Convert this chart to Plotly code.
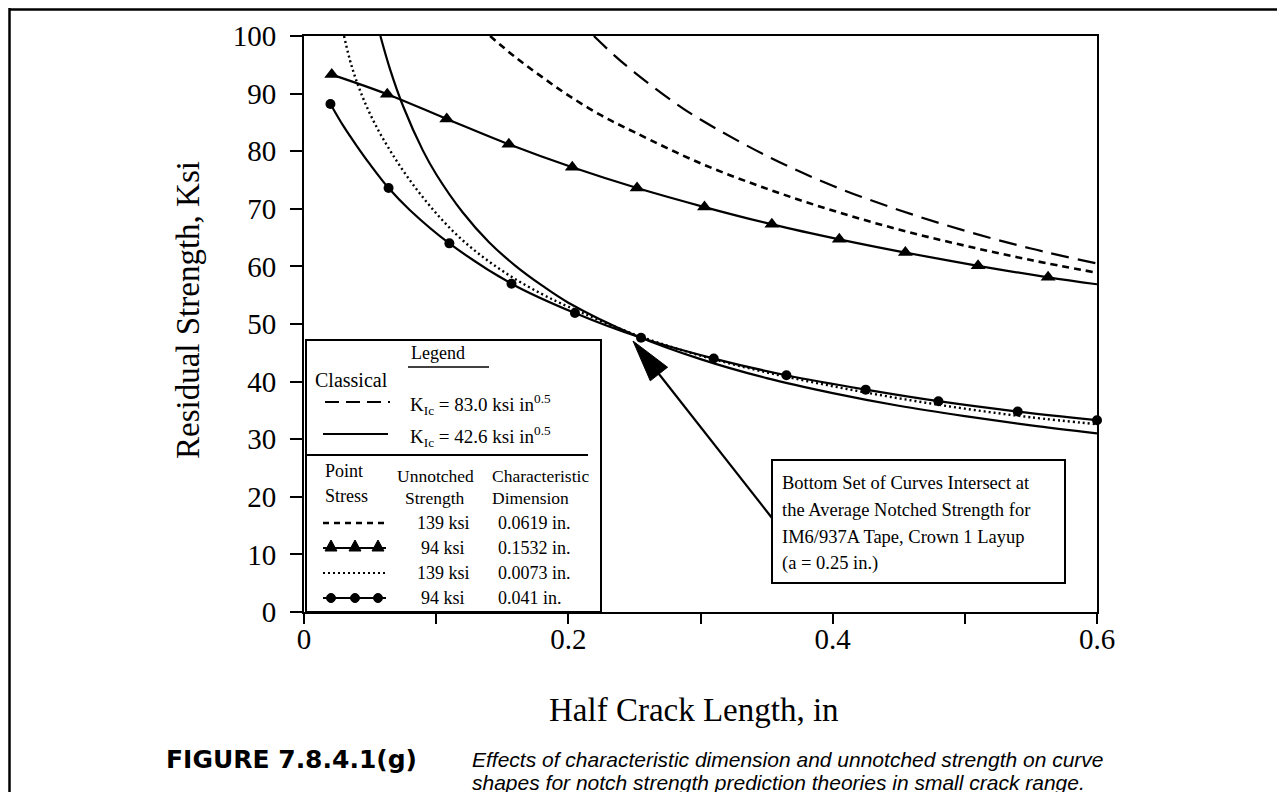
import numpy as np
import plotly.graph_objects as go

# ---------------- data ----------------
# Classical, K_Ic = 83.0 ksi in^0.5 (long dashes)
k83_x = [0.2193, 0.235, 0.25, 0.28, 0.30, 0.35, 0.40, 0.45, 0.50, 0.55, 0.60]
k83_y = [100.0, 96.6, 93.7, 88.5, 85.5, 79.2, 74.0, 69.8, 66.2, 63.1, 60.5]

# Classical, K_Ic = 42.6 ksi in^0.5 (solid)
k426_x = [0.0578, 0.065, 0.075, 0.09, 0.10, 0.12, 0.14, 0.16, 0.18, 0.20,
          0.25, 0.30, 0.35, 0.40, 0.45, 0.50, 0.55, 0.60]
k426_y = [100.0, 94.3, 87.8, 80.1, 76.0, 69.4, 64.2, 60.1, 56.7, 53.7,
          48.1, 43.9, 40.6, 38.0, 35.8, 34.0, 32.4, 31.0]

# Point stress, 139 ksi, 0.0619 in. (short dashes)
ps1_x = [0.1408, 0.16, 0.18, 0.20, 0.225, 0.25, 0.30, 0.35, 0.40, 0.45, 0.50, 0.55, 0.60]
ps1_y = [100.0, 96.3, 92.9, 89.7, 86.2, 83.3, 77.9, 73.5, 69.7, 66.4, 63.6, 61.1, 58.9]

# Point stress, 94 ksi, 0.1532 in. (solid with triangles)
ps2_x = [0.021, 0.063, 0.108, 0.155, 0.203, 0.252, 0.303, 0.354, 0.405, 0.455, 0.510, 0.563, 0.600]
ps2_y = [93.3, 89.9, 85.6, 81.2, 77.2, 73.6, 70.3, 67.3, 64.7, 62.4, 60.1, 58.1, 56.9]
ps2_mx = [0.021, 0.063, 0.108, 0.155, 0.203, 0.252, 0.303, 0.354, 0.405, 0.455, 0.510, 0.563]
ps2_my = [93.3, 89.9, 85.6, 81.2, 77.2, 73.6, 70.3, 67.3, 64.7, 62.4, 60.1, 58.1]

# Point stress, 139 ksi, 0.0073 in. (dotted)
ps3_x = [0.0303, 0.036, 0.044, 0.054, 0.066, 0.080, 0.096, 0.115, 0.135, 0.157,
         0.18, 0.20, 0.25, 0.30, 0.35, 0.40, 0.45, 0.50, 0.55, 0.60]
ps3_y = [100.0, 94.8, 89.6, 84.6, 79.8, 75.0, 70.3, 65.6, 61.7, 58.2,
         55.2, 53.0, 48.2, 44.5, 41.6, 39.2, 37.1, 35.3, 33.8, 32.6]

# Point stress, 94 ksi, 0.041 in. (solid with circles)
ps4_x = [0.020, 0.030, 0.040, 0.050, 0.064, 0.080, 0.110, 0.157, 0.205, 0.255,
         0.310, 0.365, 0.425, 0.480, 0.540, 0.600]
ps4_y = [88.2, 84.3, 80.9, 77.7, 73.6, 69.8, 64.0, 57.0, 51.9, 47.6,
         44.0, 41.1, 38.6, 36.6, 34.8, 33.3]
ps4_mx = [0.020, 0.064, 0.110, 0.157, 0.205, 0.255, 0.310, 0.365, 0.425, 0.480, 0.540, 0.600]
ps4_my = [88.2, 73.6, 64.0, 57.0, 51.9, 47.6, 44.0, 41.1, 38.6, 36.6, 34.8, 33.3]

x_tickvals = [0, 0.1, 0.2, 0.3, 0.4, 0.5, 0.6]
x_ticktext = ["0", "", "0.2", "", "0.4", "", "0.6"]
y_tickvals = [0, 10, 20, 30, 40, 50, 60, 70, 80, 90, 100]
y_ticktext = ["0", "10", "20", "30", "40", "50", "60", "70", "80", "90", "100"]

legend_rows = [("139 ksi", "0.0619 in."), ("94 ksi", "0.1532 in."),
               ("139 ksi", "0.0073 in."), ("94 ksi", "0.041 in.")]

# ---------------- layout helpers ----------------
W, H = 1285, 792
L, R, T, B = 296, 1089, 28, 604
SERIF = "Liberation Serif"
SANS = "Liberation Sans"


def px(x):
    return (x - L) / (R - L)


def py(y):
    return (B - y) / (B - T)


fig = go.Figure()

line_w = 2.2
fig.add_trace(go.Scatter(x=k83_x, y=k83_y, mode="lines", line=dict(color="black", width=line_w, dash="18px,9px", shape="spline"), showlegend=False))
fig.add_trace(go.Scatter(x=k426_x, y=k426_y, mode="lines", line=dict(color="black", width=line_w, shape="spline"), showlegend=False))
fig.add_trace(go.Scatter(x=ps1_x, y=ps1_y, mode="lines", line=dict(color="black", width=2.6, dash="7px,5px", shape="spline"), showlegend=False))
fig.add_trace(go.Scatter(x=ps2_x, y=ps2_y, mode="lines", line=dict(color="black", width=line_w, shape="spline"), showlegend=False))
fig.add_trace(go.Scatter(x=ps2_mx, y=ps2_my, mode="markers", marker=dict(symbol="triangle-up", size=13, color="black"), cliponaxis=False, showlegend=False))
fig.add_trace(go.Scatter(x=ps3_x, y=ps3_y, mode="lines", line=dict(color="black", width=2.4, dash="2px,3px", shape="spline"), showlegend=False))
fig.add_trace(go.Scatter(x=ps4_x, y=ps4_y, mode="lines", line=dict(color="black", width=line_w, shape="spline"), showlegend=False))
fig.add_trace(go.Scatter(x=ps4_mx, y=ps4_my, mode="markers", marker=dict(symbol="circle", size=10, color="black"), cliponaxis=False, showlegend=False))

shapes = []
ann = []


def hline(x0, x1, y, width=2, dash="solid"):
    shapes.append(dict(type="line", xref="paper", yref="paper", x0=px(x0), x1=px(x1), y0=py(y), y1=py(y),
                       line=dict(color="black", width=width, dash=dash)))


def vline(x, y0, y1, width=2):
    shapes.append(dict(type="line", xref="paper", yref="paper", x0=px(x), x1=px(x), y0=py(y0), y1=py(y1),
                       line=dict(color="black", width=width)))


def rect(x0, y0, x1, y1, width=2):
    shapes.append(dict(type="rect", xref="paper", yref="paper", x0=px(x0), x1=px(x1), y0=py(y0), y1=py(y1),
                       line=dict(color="black", width=width), fillcolor="white", layer="above"))


def text(x, y, s, size=18, xanchor="left", family=SERIF):
    ann.append(dict(x=px(x), y=py(y), xref="paper", yref="paper", text=s, showarrow=False,
                    xanchor=xanchor, yanchor="middle", font=dict(family=family, size=size, color="black")))


# outer figure frame
hline(1, 1284, 1.5, width=2.5)
vline(1.5, 0, 792, width=2.5)
vline(1283.5, 0, 792, width=2.5)

# legend box
rect(298, 332, 593, 604, width=2)
hline(298, 580, 447, width=2)
hline(400, 481, 359, width=1.5)
text(430, 345, "Legend", size=18, xanchor="center")
text(305, 372, "Classical", size=20)
hline(317, 382, 394, width=2.2, dash="14px,7px")
hline(315, 380, 426, width=2.2)
text(400, 396, "K<sub>Ic</sub> = 83.0 ksi in<sup>0.5</sup>", size=19)
text(400, 428, "K<sub>Ic</sub> = 42.6 ksi in<sup>0.5</sup>", size=19)
text(315, 463, "Point", size=18)
text(315, 488, "Stress", size=18)
text(427, 468, "Unnotched", size=17.5, xanchor="center")
text(427, 490, "Strength", size=17.5, xanchor="center")
text(532, 468, "Characteristic", size=17.5, xanchor="center")
text(522, 490, "Dimension", size=17.5, xanchor="center")
row_y = [515, 540, 565, 590]
for (s1, s2), yy in zip(legend_rows, row_y):
    text(435, yy, s1, size=18, xanchor="center")
    text(488, yy, s2, size=18)
hline(315, 378, row_y[0], width=2.4, dash="6px,5px")
hline(315, 378, row_y[1], width=2.2)
hline(315, 380, row_y[2], width=2.2, dash="2px,3px")
hline(315, 378, row_y[3], width=2.2)
for xm in (323, 347, 370):
    yy = row_y[1]
    shapes.append(dict(type="path", xref="paper", yref="paper",
                       path=f"M {px(xm-6)} {py(yy+3)} L {px(xm+6)} {py(yy+3)} L {px(xm)} {py(yy-8)} Z",
                       fillcolor="black", line=dict(color="black", width=1)))
    yy = row_y[3]
    shapes.append(dict(type="circle", xref="paper", yref="paper",
                       x0=px(xm-4.5), x1=px(xm+4.5), y0=py(yy-4.5), y1=py(yy+4.5),
                       fillcolor="black", line=dict(color="black", width=1)))

# annotation box + arrow
rect(764, 452, 1057, 575, width=2)
box_lines = ["Bottom Set of Curves Intersect at", "the Average Notched Strength for",
             "IM6/937A Tape, Crown 1 Layup", "(a = 0.25 in.)"]
for s, yy in zip(box_lines, [475, 502, 529, 555]):
    text(772, yy, s, size=18.5)

tip = np.array([625.0, 333.0])
tail = np.array([764.0, 510.0])
u = (tail - tip) / np.linalg.norm(tail - tip)
nrm = np.array([-u[1], u[0]])
base = tip + 42 * u
c1 = base + 11 * nrm
c2 = base - 11 * nrm
shapes.append(dict(type="line", xref="paper", yref="paper", x0=px(base[0]), y0=py(base[1]),
                   x1=px(tail[0]), y1=py(tail[1]), line=dict(color="black", width=2.2)))
shapes.append(dict(type="path", xref="paper", yref="paper",
                   path=f"M {px(tip[0])} {py(tip[1])} L {px(c1[0])} {py(c1[1])} L {px(c2[0])} {py(c2[1])} Z",
                   fillcolor="black", line=dict(color="black", width=1)))

# axis titles
ann.append(dict(x=px(180), y=py(302), xref="paper", yref="paper", text="Residual Strength, Ksi",
                showarrow=False, textangle=-90, xanchor="center", yanchor="middle",
                font=dict(family=SERIF, size=33, color="black")))
text(686, 702, "Half Crack Length, in", size=33, xanchor="center")

# caption
text(156, 751, "<b>FIGURE 7.8.4.1(g)</b>", size=25, family="DejaVu Sans")
text(462, 751, "<i>Effects of characteristic dimension and unnotched strength on curve</i>", size=21, family=SANS)
text(462, 774, "<i>shapes for notch strength prediction theories in small crack range.</i>", size=21, family=SANS)

axis_common = dict(showgrid=False, zeroline=False, showline=True, linecolor="black", linewidth=2,
                   mirror=True, ticks="outside", tickcolor="black", tickwidth=2,
                   tickfont=dict(family=SERIF, size=29, color="black"))

fig.update_layout(
    width=W, height=H,
    margin=dict(l=L, r=W - R, t=T, b=H - B, pad=0),
    paper_bgcolor="white", plot_bgcolor="white",
    xaxis=dict(range=[0, 0.6], tickvals=x_tickvals, ticktext=x_ticktext, ticklen=10,
               ticklabelstandoff=-10, **axis_common),
    yaxis=dict(range=[0, 100], tickvals=y_tickvals, ticktext=y_ticktext, ticklen=12,
               ticklabelstandoff=8, **axis_common),
    shapes=shapes, annotations=ann, showlegend=False,
)

fig.write_html("out.html")
